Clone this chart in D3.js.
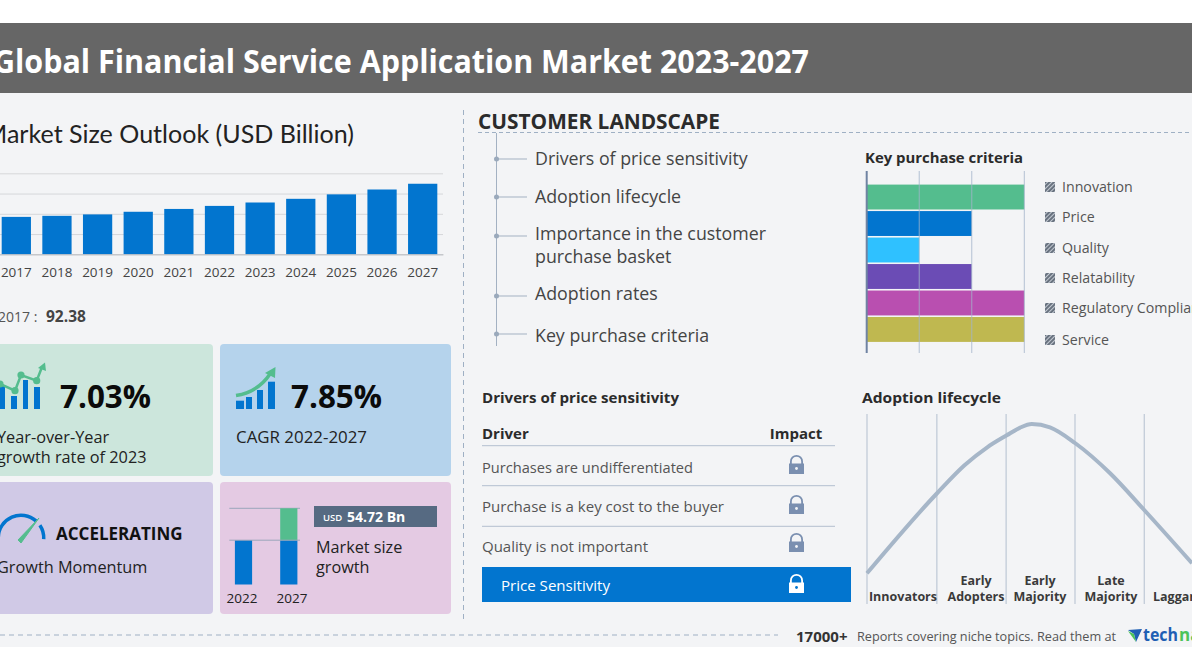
<!DOCTYPE html>
<html>
<head>
<meta charset="utf-8">
<script src="https://cdn.jsdelivr.net/npm/d3@7"></script>
<style>
  html, body { margin: 0; padding: 0; background: #fff; overflow: hidden; }
  text { font-family: "Open Sans", "Noto Sans", sans-serif; }
</style>
</head>
<body>
<div id="chart"></div>
<script>
var years = ["2017", "2018", "2019", "2020", "2021", "2022", "2023", "2024", "2025", "2026", "2027"];
var marketSize = [92.38, 95, 98.5, 105, 112, 119.5, 127.9, 137, 148, 160, 174.2];
var marketTicks = [0, 50, 100, 150, 200];

var criteria = ["Innovation", "Price", "Quality", "Relatability", "Regulatory Compliance", "Service"];
var criteriaLevel = [3, 2, 1, 2, 3, 3];
var criteriaColor = ["#54bd8e", "#0275cf", "#2fc1ff", "#6b4cb5", "#b94fb0", "#bfb850"];

var landscape = [
  ["Drivers of price sensitivity"],
  ["Adoption lifecycle"],
  ["Importance in the customer", "purchase basket"],
  ["Adoption rates"],
  ["Key purchase criteria"]
];

var drivers = ["Purchases are undifferentiated", "Purchase is a key cost to the buyer", "Quality is not important"];

var lifecycleX = [0, 21.7, 30, 37, 43, 47, 50.7, 56.3, 64.1, 74.8, 85.3, 100];
var lifecycleY = [0, 53.7, 72, 84, 92, 97, 99.5, 97.3, 86.7, 66.7, 42.2, 6.7];
var lifecycleStages = [
  ["Innovators"],
  ["Early", "Adopters"],
  ["Early", "Majority"],
  ["Late", "Majority"],
  ["Laggards"]
];
var stageEdges = [0, 21.5, 42.8, 64, 85.3];

var growthYears = ["2022", "2027"];
var growthBase = [1, 1];
var growthAdded = [0, 0.72];

var svg = d3.select("#chart").append("svg")
  .attr("width", 1192)
  .attr("height", 670)
  .style("display", "block");

var defs = svg.append("defs");
defs.append("pattern")
  .attr("id", "hatch")
  .attr("width", 3)
  .attr("height", 3)
  .attr("patternUnits", "userSpaceOnUse")
  .attr("patternTransform", "rotate(-45)")
  .call(function(p) {
    p.append("rect").attr("width", 3).attr("height", 3).attr("fill", "#c4cad3");
    p.append("rect").attr("width", 3).attr("height", 2).attr("fill", "#68727f");
  });

function label(g, x, y, str, size, color, weight, anchor) {
  return g.append("text")
    .attr("x", x)
    .attr("y", y)
    .attr("font-size", size)
    .attr("fill", color || "#333")
    .attr("font-weight", weight || 400)
    .attr("text-anchor", anchor || "start")
    .text(str);
}

// squeeze or stretch a label to the width it has in the picture
function fit(sel, w) {
  return sel.attr("textLength", w).attr("lengthAdjust", "spacingAndGlyphs");
}

function hline(g, x1, x2, y, color, dash) {
  return g.append("line")
    .attr("x1", x1).attr("x2", x2).attr("y1", y).attr("y2", y)
    .attr("stroke", color)
    .attr("stroke-dasharray", dash || null);
}

function vline(g, x, y1, y2, color, dash) {
  return g.append("line")
    .attr("x1", x).attr("x2", x).attr("y1", y1).attr("y2", y2)
    .attr("stroke", color)
    .attr("stroke-dasharray", dash || null);
}

// page background and title band
svg.append("rect").attr("x", 0).attr("y", 23).attr("width", 1192).attr("height", 624).attr("fill", "#f3f4f6");
svg.append("rect").attr("x", 0).attr("y", 23).attr("width", 1192).attr("height", 70).attr("fill", "#666666");
fit(label(svg, -7, 73, "Global Financial Service Application Market 2023-2027", 31.5, "#fff", 700), 816);

// market size bars
var outlook = svg.append("g");
fit(label(outlook, -16, 143, "Market Size Outlook (USD Billion)", 24.5, "#222", 400).style("font-family", "Lato"), 370);

var x = d3.scaleBand().domain(years).range([-4, 443]).paddingInner(0.28).paddingOuter(0.14);
var y = d3.scaleLinear().domain([0, 200]).range([254.3, 173.3]);

outlook.append("g")
  .call(d3.axisLeft(y).tickValues(marketTicks).tickSize(-447).tickFormat(""))
  .attr("transform", "translate(443,0) scale(-1,1)")
  .call(function(g) {
    g.select(".domain").remove();
    g.selectAll("line").attr("stroke", "#d6d7da");
  });

outlook.selectAll("rect.bar").data(years).enter().append("rect")
  .attr("class", "bar")
  .attr("x", function(d) { return x(d); })
  .attr("width", x.bandwidth())
  .attr("y", function(d, i) { return y(marketSize[i]); })
  .attr("height", function(d, i) { return y(0) - y(marketSize[i]); })
  .attr("fill", "#0275cf");

outlook.append("g")
  .attr("transform", "translate(0,254.3)")
  .call(d3.axisBottom(x).tickSize(0).tickPadding(13))
  .call(function(g) {
    g.select(".domain").attr("stroke", "#b9bcc2");
    g.selectAll("text").attr("font-size", 13.5).attr("fill", "#444").style("font-family", "Open Sans");
  });

label(outlook, -2, 322, "2017 :", 14, "#555");
label(outlook, 46, 322, marketSize[0].toFixed(2), 15.5, "#444", 700);

// metric cards
function card(px, py, w, h, fill) {
  svg.append("rect").attr("x", px).attr("y", py).attr("width", w).attr("height", h).attr("rx", 4).attr("fill", fill);
}
card(-10, 344, 223, 132, "#cce6dc");
card(220, 344, 231, 132, "#b5d3ec");
card(-10, 482, 223, 132, "#d0c9e6");
card(220, 482, 231, 132, "#e4cae3");

fit(label(svg, 60, 408, "7.03%", 33, "#0b0b0b", 700), 91);
label(svg, -3, 443, "Year-over-Year", 16.3, "#222");
label(svg, -3, 463, "growth rate of 2023", 16.3, "#222");
fit(label(svg, 291, 408, "7.85%", 33, "#0b0b0b", 700), 91);
fit(label(svg, 236, 443, "CAGR 2022-2027", 16, "#222"), 131);
label(svg, 56, 540, "ACCELERATING", 17, "#111", 700);
label(svg, -3, 573, "Growth Momentum", 16.3, "#222");

// yoy icon
var yoyBars = [[0, 5, 386], [11, 17, 396], [23, 28, 380], [34, 40, 387]];
yoyBars.forEach(function(b) {
  svg.append("rect").attr("x", b[0]).attr("y", b[2]).attr("width", b[1] - b[0]).attr("height", 409 - b[2]).attr("fill", "#0275cf");
});
svg.append("path")
  .attr("d", "M0,384L15,390.7L21,375L36.7,380.7L42,367")
  .attr("fill", "none").attr("stroke", "#54bd8e").attr("stroke-width", 2.5);
[[0, 384], [15, 390.7], [21, 375], [36.7, 380.7]].forEach(function(c) {
  svg.append("circle").attr("cx", c[0]).attr("cy", c[1]).attr("r", 3.6).attr("fill", "#54bd8e");
});
svg.append("path").attr("d", "M45,362.5L46,371L38,368Z").attr("fill", "#54bd8e");

// cagr icon
[[236, 244, 400.7], [246, 252, 397], [257, 263, 390], [268, 275, 381.7]].forEach(function(b) {
  svg.append("rect").attr("x", b[0]).attr("y", b[2]).attr("width", b[1] - b[0]).attr("height", 409 - b[2]).attr("fill", "#0275cf");
});
svg.append("path")
  .attr("d", "M236,395.5Q258,392 270,374")
  .attr("fill", "none").attr("stroke", "#54bd8e").attr("stroke-width", 3.5);
svg.append("path").attr("d", "M275.5,367L275,378L265,373Z").attr("fill", "#54bd8e");

// gauge icon
var gauge = svg.append("g").attr("transform", "translate(21,538)");
var gaugeArc = d3.arc().innerRadius(21).outerRadius(24.5);
gauge.append("path").attr("d", gaugeArc({ startAngle: -1.55, endAngle: 0.72 })).attr("fill", "#0275cf");
gauge.append("path").attr("d", gaugeArc({ startAngle: 0.98, endAngle: 1.62 })).attr("fill", "#0275cf");
gauge.append("path").attr("d", "M-3,2L18,-20L0,5Z").attr("fill", "#54bd8e").attr("stroke", "#54bd8e");

// market growth mini chart
var growth = svg.append("g");
var gx = d3.scalePoint().domain(growthYears).range([243.5, 288.8]);
var gy = d3.scaleLinear().domain([0, 1.72]).range([584.5, 508.3]);
hline(growth, 229.3, 300, gy(1.72), "#9aa6bb");
growth.selectAll("rect.base").data(growthYears).enter().append("rect")
  .attr("class", "base")
  .attr("x", function(d) { return gx(d) - 8.6; })
  .attr("width", 17.2)
  .attr("y", function(d, i) { return gy(growthBase[i]); })
  .attr("height", function(d, i) { return gy(0) - gy(growthBase[i]); })
  .attr("fill", "#0275cf");
growth.selectAll("rect.added").data(growthYears).enter().append("rect")
  .attr("class", "added")
  .attr("x", function(d) { return gx(d) - 8.6; })
  .attr("width", 17.2)
  .attr("y", function(d, i) { return gy(growthBase[i] + growthAdded[i]); })
  .attr("height", function(d, i) { return gy(growthBase[i]) - gy(growthBase[i] + growthAdded[i]); })
  .attr("fill", "#54bd8e");
hline(growth, 229.3, 300, gy(1), "#9aa6bb");
label(growth, 242, 603, growthYears[0], 13.5, "#222", 400, "middle");
label(growth, 292, 603, growthYears[1], 13.5, "#222", 400, "middle");
svg.append("rect").attr("x", 314).attr("y", 506).attr("width", 123).attr("height", 21).attr("fill", "#566a82");
label(svg, 323, 521, "USD", 9.5, "#fff", 600);
label(svg, 347, 522, "54.72 Bn", 14, "#fff", 700);
label(svg, 316, 553, "Market size", 16.2, "#222");
label(svg, 316, 573, "growth", 16.2, "#222");

// separators
vline(svg, 463.5, 110, 622, "#9fb0c4", "5,4");
hline(svg, 478, 1192, 132.5, "#9fb0c4", "4,3");
hline(svg, 0, 778, 635, "#9fb0c4", "5,4");

// customer landscape list
fit(label(svg, 478, 129, "CUSTOMER LANDSCAPE", 20.5, "#2b2b2b", 700), 242);
var treeY = [159, 197, 236, 296, 334];
var textY = [165, 203, 240, 300, 342];
vline(svg, 496.5, 133, 346, "#a3b1c2");
landscape.forEach(function(lines, i) {
  hline(svg, 496.5, 527, treeY[i], "#a3b1c2");
  svg.append("circle").attr("cx", 496.5).attr("cy", treeY[i]).attr("r", 2.5).attr("fill", "#9aa9bb");
  lines.forEach(function(t, j) {
    label(svg, 535, textY[i] + j * 23, t, 17.8, "#444");
  });
});

// key purchase criteria
var kpc = svg.append("g");
fit(label(kpc, 865, 163, "Key purchase criteria", 15, "#2b2b2b", 700), 158);
var kx = d3.scaleLinear().domain([0, 3]).range([866.7, 1024.3]);
var ky = d3.scaleBand().domain(criteria).range([183, 343.5]).padding(0.06);
kpc.selectAll("rect.level").data(criteria).enter().append("rect")
  .attr("class", "level")
  .attr("x", kx(0))
  .attr("y", function(d) { return ky(d); })
  .attr("width", function(d, i) { return kx(criteriaLevel[i]) - kx(0); })
  .attr("height", ky.bandwidth())
  .attr("fill", function(d, i) { return criteriaColor[i]; });
[1, 2, 3].forEach(function(v) {
  vline(kpc, kx(v), 171, 353, "#a3b4ca").attr("stroke-opacity", 0.8);
});
vline(kpc, kx(0), 171, 353, "#6f83a3").attr("stroke-width", 2);
var legendY = [187, 217, 248, 278, 308, 340];
criteria.forEach(function(c, i) {
  kpc.append("rect").attr("x", 1045).attr("y", legendY[i] - 5).attr("width", 10).attr("height", 10).attr("fill", "url(#hatch)");
  label(kpc, 1062, legendY[i] + 5, c, 14.2, "#555");
});

// drivers table
var lockPath = "M-7.5,-1.5H7.5V9H-7.5Z";
function lock(cx, cy, color, hole) {
  var g = svg.append("g").attr("transform", "translate(" + cx + "," + cy + ")");
  g.append("path").attr("d", "M-5.6,-1V-3.6A5.6,5.6 0 0 1 5.6,-3.6V-1").attr("fill", "none").attr("stroke", color).attr("stroke-width", 1.8);
  g.append("path").attr("d", lockPath).attr("fill", color);
  g.append("circle").attr("cx", 0).attr("cy", 3.5).attr("r", 1.4).attr("fill", hole);
}
fit(label(svg, 482, 403, "Drivers of price sensitivity", 15, "#2b2b2b", 700), 197);
label(svg, 482, 439, "Driver", 15, "#2b2b2b", 700);
label(svg, 796, 439, "Impact", 15, "#2b2b2b", 700, "middle");
var ruleY = [445.7, 485.7, 526.3];
var rowY = [473, 512, 552];
var lockY = [465, 505, 543];
var rowWidth = [211, 242, 166];
drivers.forEach(function(d, i) {
  hline(svg, 482, 835, ruleY[i], "#b3bfcf");
  fit(label(svg, 482, rowY[i], d, 14.8, "#555"), rowWidth[i]);
  lock(796.5, lockY[i], "#7a8fb0", "#f3f4f6");
});
svg.append("rect").attr("x", 482).attr("y", 567).attr("width", 369).attr("height", 35).attr("fill", "#0275cf");
fit(label(svg, 501, 591, "Price Sensitivity", 14.8, "#fff"), 109);
lock(796.5, 584, "#fff", "#0275cf");

// adoption lifecycle
var life = svg.append("g");
fit(label(life, 862, 403, "Adoption lifecycle", 15, "#2b2b2b", 700), 139);
var lx = d3.scaleLinear().domain([0, 100]).range([867, 1192]);
var ly = d3.scaleLinear().domain([0, 100]).range([573.3, 423.3]);
stageEdges.forEach(function(e) {
  vline(life, lx(e), 414, 604, "#b3bfcf");
});
life.append("path")
  .datum(d3.range(lifecycleX.length))
  .attr("d", d3.line()
    .x(function(i) { return lx(lifecycleX[i]); })
    .y(function(i) { return ly(lifecycleY[i]); })
    .curve(d3.curveMonotoneX))
  .attr("fill", "none")
  .attr("stroke", "#a6b6c8")
  .attr("stroke-width", 4);
var stageX = [903, 976, 1040, 1111, 1181];
lifecycleStages.forEach(function(lines, i) {
  lines.forEach(function(t, j) {
    label(life, stageX[i], 601 - (lines.length - 1 - j) * 16, t, 12.5, "#3a3a3a", 700, "middle");
  });
});

// footer
label(svg, 796, 642, "17000+", 15, "#333", 700);
fit(label(svg, 857, 641, "Reports covering niche topics. Read them at", 12.7, "#555"), 259);
svg.append("path").attr("d", "M1128,630L1142,629L1136,642L1134,634Z").attr("fill", "#1f5fb4");
svg.append("path").attr("d", "M1128,631L1134,634L1136,642Z").attr("fill", "#4cc35a");
fit(label(svg, 1143, 641, "tech", 17, "#1f5fb4", 700), 35);
label(svg, 1179, 641, "na", 17, "#4cc35a", 700);
svg.append("rect").attr("x", 0).attr("y", 647).attr("width", 1192).attr("height", 23).attr("fill", "#fff");
</script>
</body>
</html>
